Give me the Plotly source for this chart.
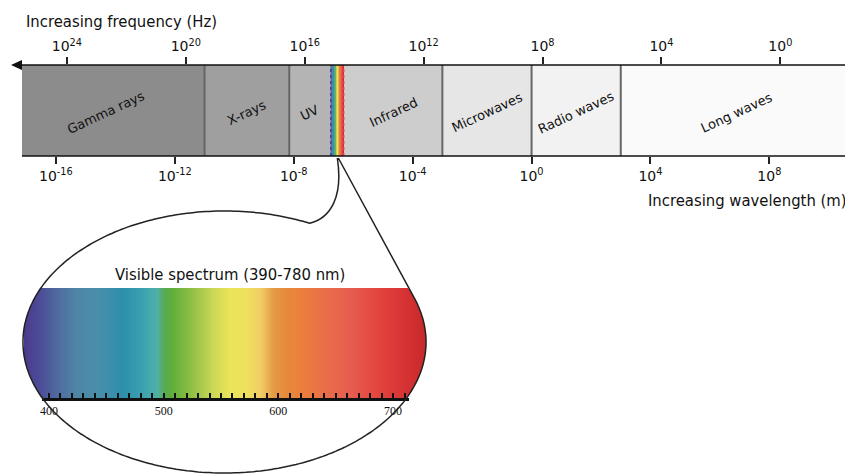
import numpy as np
import plotly.graph_objects as go

# ---------------- data ----------------
band_names = ["Gamma rays", "X-rays", "UV", "Visible", "Infrared", "Microwaves", "Radio waves", "Long waves"]
# band edges as log10(wavelength in m), as drawn in the picture
band_edges = [-17.14, -11.0, -8.15, -6.77, -6.30, -3.0, 0.0, 3.0, 10.81]
band_colors = ["#8c8c8c", "#9f9f9f", "#b4b4b4", None, "#cdcdcd", "#e6e6e6", "#f2f2f2", "#fafafa"]

wl_exps = [-16, -12, -8, -4, 0, 4, 8]          # wavelength tick exponents (m)
freq_exps = [24, 20, 16, 12, 8, 4, 0]          # frequency tick exponents (Hz)

spec_labels = [400, 500, 600, 700]             # visible-spectrum labelled ticks (nm)
spec_minor_step = 10                           # minor tick step (nm)
spec_nm = [378, 394, 407, 424, 442, 464, 481, 494, 500, 507, 524, 542, 559, 572, 585, 596, 607, 620, 646, 664, 681, 707, 729]
spec_colors = ["#4a3a8c", "#4c4f98", "#4f6aa0", "#4f85a5", "#4a8eab", "#2d8fad", "#3aa0b0", "#4fb0a8",
               "#58aa55", "#60ad3a", "#8fbf45", "#c8d655", "#ece45a", "#eee15c", "#f0cd65", "#e59a45",
               "#e58a3c", "#ed7f3c", "#e86a4a", "#e65c50", "#e64a40", "#d83535", "#c8282a"]

# ---------------- layout constants ----------------
OFF = 8                                  # page body margin
W, H = 853 - OFF, 474 - OFF
PX0, PX_PER_DEC = 54.0 - OFF, 29.8       # pixel of 10^-16 m, pixels per decade
XMIN = -16 - PX0 / PX_PER_DEC
XMAX = -16 + (W - PX0) / PX_PER_DEC
FREQ_SHIFT = 8.37                        # freq exponent = FREQ_SHIFT - log10(wavelength) (as drawn)
BAND_TOP, BAND_BOT = 65 - OFF, 156 - OFF

NM_PX400, PX_PER_NM = 47.0 - OFF, 1.15
def nm_at(px):
    return 400 + (px - NM_PX400) / PX_PER_NM
SPEC_L, SPEC_R, SPEC_TOP, SPEC_BOT = 22 - OFF, 425 - OFF, 288 - OFF, 398 - OFF
CX, CY, EA, EB = 223.0 - OFF, 342.0 - OFF, 202.0, 131.0
TL0, TL1 = 40 - OFF, 408 - OFF           # spectrum tick-line extent

NARROW = "Liberation Sans Narrow, Arial Narrow, DejaVu Sans Condensed, Liberation Sans, sans-serif"
GOTHIC = "Century Gothic, URW Gothic, DejaVu Sans, sans-serif"
SERIF = "Liberation Serif, DejaVu Serif, serif"

fig = go.Figure()

# bands
for i, name in enumerate(band_names):
    if band_colors[i] is None:
        continue
    x0, x1 = band_edges[i], band_edges[i + 1]
    fig.add_trace(go.Bar(orientation="h", y=[0.5], x=[x1 - x0], base=[x0], width=1,
                         marker=dict(color=band_colors[i], line=dict(width=0)),
                         xaxis="x", yaxis="y", hoverinfo="skip", showlegend=False))

# colorscale for the visible spectrum
zmin, zmax = spec_nm[0], spec_nm[-1]
cscale = [[(n - zmin) / (zmax - zmin), c] for n, c in zip(spec_nm, spec_colors)]

# visible strip inside the band
vi = band_names.index("Visible")
vx = np.linspace(band_edges[vi], band_edges[vi + 1], 15)
vz = np.linspace(385, 720, 14)
fig.add_trace(go.Heatmap(x=vx, y=[0, 1], z=[vz], colorscale=cscale, zmin=zmin, zmax=zmax,
                         showscale=False, hoverinfo="skip", xaxis="x", yaxis="y"))

# visible spectrum inside the ellipse (clipped to ellipse)
px_edges = np.arange(SPEC_L, SPEC_R + 1, 1.0)
py_edges = np.arange(SPEC_TOP, SPEC_BOT + 1, 1.0)
pxc = (px_edges[:-1] + px_edges[1:]) / 2
pyc = (py_edges[:-1] + py_edges[1:]) / 2
PXg, PYg = np.meshgrid(pxc, pyc)
inside = ((PXg - CX) / EA) ** 2 + ((PYg - CY) / EB) ** 2 <= 1.0
Z = np.where(inside, nm_at(PXg), np.nan)
fig.add_trace(go.Heatmap(x=nm_at(px_edges), y=py_edges, z=Z, colorscale=cscale, zmin=zmin, zmax=zmax,
                         showscale=False, hoverinfo="skip", zsmooth=False, xaxis="x3", yaxis="y3"))

# dummy traces so helper axes exist
fig.add_trace(go.Scatter(x=[500], y=[SPEC_BOT], mode="markers", marker=dict(opacity=0),
                         xaxis="x4", yaxis="y3", hoverinfo="skip", showlegend=False))
fig.add_trace(go.Scatter(x=[0], y=[0], mode="markers", marker=dict(opacity=0),
                         xaxis="x5", yaxis="y5", hoverinfo="skip", showlegend=False))
fig.add_trace(go.Scatter(x=[10], y=[0.5], mode="markers", marker=dict(opacity=0),
                         xaxis="x2", yaxis="y", hoverinfo="skip", showlegend=False))

shapes = []
# band boundary lines
for i in range(1, len(band_edges) - 1):
    e = band_edges[i]
    if e in (band_edges[vi], band_edges[vi + 1]):
        continue
    shapes.append(dict(type="line", xref="x", yref="y", x0=e, x1=e, y0=0, y1=1,
                       line=dict(color="#666666", width=2)))
# dashed edges of the visible strip
shapes.append(dict(type="line", xref="x", yref="y", x0=band_edges[vi] + 0.02, x1=band_edges[vi] + 0.02,
                   y0=0, y1=1, line=dict(color="#4a3a8c", width=1.5, dash="dot")))
shapes.append(dict(type="line", xref="x", yref="y", x0=band_edges[vi + 1] - 0.02, x1=band_edges[vi + 1] - 0.02,
                   y0=0, y1=1, line=dict(color="#e04545", width=1.5, dash="dot")))

# axis lines and arrows (pixel coordinates)
L_ARROW, L_BAND = 10 - OFF, 20 - OFF
shapes.append(dict(type="line", xref="x5", yref="y5", x0=L_ARROW + 2, x1=W, y0=BAND_TOP, y1=BAND_TOP,
                   line=dict(color="#111111", width=1.5)))
shapes.append(dict(type="line", xref="x5", yref="y5", x0=L_BAND, x1=W - 4, y0=BAND_BOT, y1=BAND_BOT,
                   line=dict(color="#111111", width=1.5)))
shapes.append(dict(type="path", xref="x5", yref="y5",
                   path=f"M {L_ARROW-1} {BAND_TOP} L {L_BAND} {BAND_TOP-5} L {L_BAND} {BAND_TOP+5} Z",
                   fillcolor="#111111", line=dict(width=0)))
shapes.append(dict(type="path", xref="x5", yref="y5",
                   path=f"M {W+7} {BAND_BOT} L {W-4} {BAND_BOT-5} L {W-4} {BAND_BOT+5} Z",
                   fillcolor="#111111", line=dict(width=0)))

# magnifier outline: ellipse arc + connectors
vis_center = (band_edges[vi] + band_edges[vi + 1]) / 2
Pp = PX0 + (vis_center + 16) * PX_PER_DEC
th = np.radians(np.linspace(65, 379, 300))
ax_ = CX + EA * np.cos(th)
ay_ = CY - EB * np.sin(th)
PY_TOP = BAND_BOT + 2
path = "M " + " L ".join(f"{x:.1f} {y:.1f}" for x, y in zip(ax_, ay_))
path += f" L {Pp+1:.1f} {PY_TOP}"
path += f" M {ax_[0]:.1f} {ay_[0]:.1f} C {330-OFF} {218-OFF} {342-OFF} {196-OFF} {Pp:.1f} {PY_TOP}"
shapes.append(dict(type="path", xref="x5", yref="y5", path=path, line=dict(color="#222222", width=1.5)))

annotations = []
for i, name in enumerate(band_names):
    if name == "Visible":
        continue
    xc = (band_edges[i] + band_edges[i + 1]) / 2
    if name == "Gamma rays":
        xc -= 0.25
    annotations.append(dict(x=xc, y=0.48, xref="x", yref="y", text=name, showarrow=False,
                            textangle=-25, font=dict(family=GOTHIC, size=13, color="#111111")))
annotations.append(dict(x=22 - OFF, y=21 - OFF, xref="x5", yref="y5", text="Increasing frequency (Hz)",
                        showarrow=False, xanchor="left", yanchor="middle",
                        font=dict(family=NARROW, size=16.5, color="#111111")))
annotations.append(dict(x=849 - OFF, y=200 - OFF, xref="x5", yref="y5", text="Increasing wavelength (m)",
                        showarrow=False, xanchor="right", yanchor="middle",
                        font=dict(family=NARROW, size=16.5, color="#111111")))
annotations.append(dict(x=229 - OFF, y=274 - OFF, xref="x5", yref="y5", text="Visible spectrum (390-780 nm)",
                        showarrow=False, xanchor="center", yanchor="middle",
                        font=dict(family=NARROW, size=16.5, color="#111111")))

tickfont = dict(family=GOTHIC, size=14, color="#111111")
fig.update_layout(
    width=W, height=H, margin=dict(l=0, r=0, t=0, b=0),
    paper_bgcolor="white", plot_bgcolor="rgba(0,0,0,0)",
    barmode="overlay", showlegend=False,
    xaxis=dict(domain=[0, 1], range=[XMIN, XMAX], anchor="y", side="bottom",
               tickvals=wl_exps, ticktext=[f"10<sup>{e}</sup>" for e in wl_exps],
               ticks="outside", ticklen=7, tickwidth=1.5, tickcolor="#222222",
               showline=False, showgrid=False, zeroline=False, tickfont=tickfont, fixedrange=True),
    yaxis=dict(domain=[1 - BAND_BOT / H, 1 - BAND_TOP / H], range=[0, 1], visible=False, fixedrange=True),
    xaxis2=dict(overlaying="x", anchor="y", side="top",
                range=[FREQ_SHIFT - XMIN, FREQ_SHIFT - XMAX],
                tickvals=freq_exps, ticktext=[f"10<sup>{e}</sup>" for e in freq_exps],
                ticks="outside", ticklen=7, tickwidth=1.5, tickcolor="#222222",
                showline=False, showgrid=False, zeroline=False, tickfont=tickfont, fixedrange=True),
    xaxis3=dict(domain=[SPEC_L / W, SPEC_R / W], range=[nm_at(SPEC_L), nm_at(SPEC_R)], anchor="y3",
                visible=False, fixedrange=True),
    yaxis3=dict(domain=[1 - SPEC_BOT / H, 1 - SPEC_TOP / H], range=[SPEC_BOT, SPEC_TOP], anchor="x3",
                visible=False, fixedrange=True),
    xaxis4=dict(domain=[TL0 / W, TL1 / W], range=[nm_at(TL0), nm_at(TL1)], anchor="y3", side="bottom",
                tickvals=spec_labels, ticktext=[str(v) for v in spec_labels],
                ticks="inside", ticklen=5, tickwidth=2, tickcolor="#111111",
                minor=dict(ticks="inside", ticklen=5, tickwidth=2, tickcolor="#111111",
                           tick0=spec_labels[0], dtick=spec_minor_step, showgrid=False),
                showline=True, linecolor="#111111", linewidth=2.5,
                showgrid=False, zeroline=False, tickfont=dict(family=SERIF, size=12, color="#111111"),
                fixedrange=True),
    xaxis5=dict(domain=[0, 1], range=[0, W], anchor="y5", visible=False, fixedrange=True),
    yaxis5=dict(domain=[0, 1], range=[H, 0], anchor="x5", visible=False, fixedrange=True),
    shapes=shapes, annotations=annotations,
)

fig.write_html("out.html")
